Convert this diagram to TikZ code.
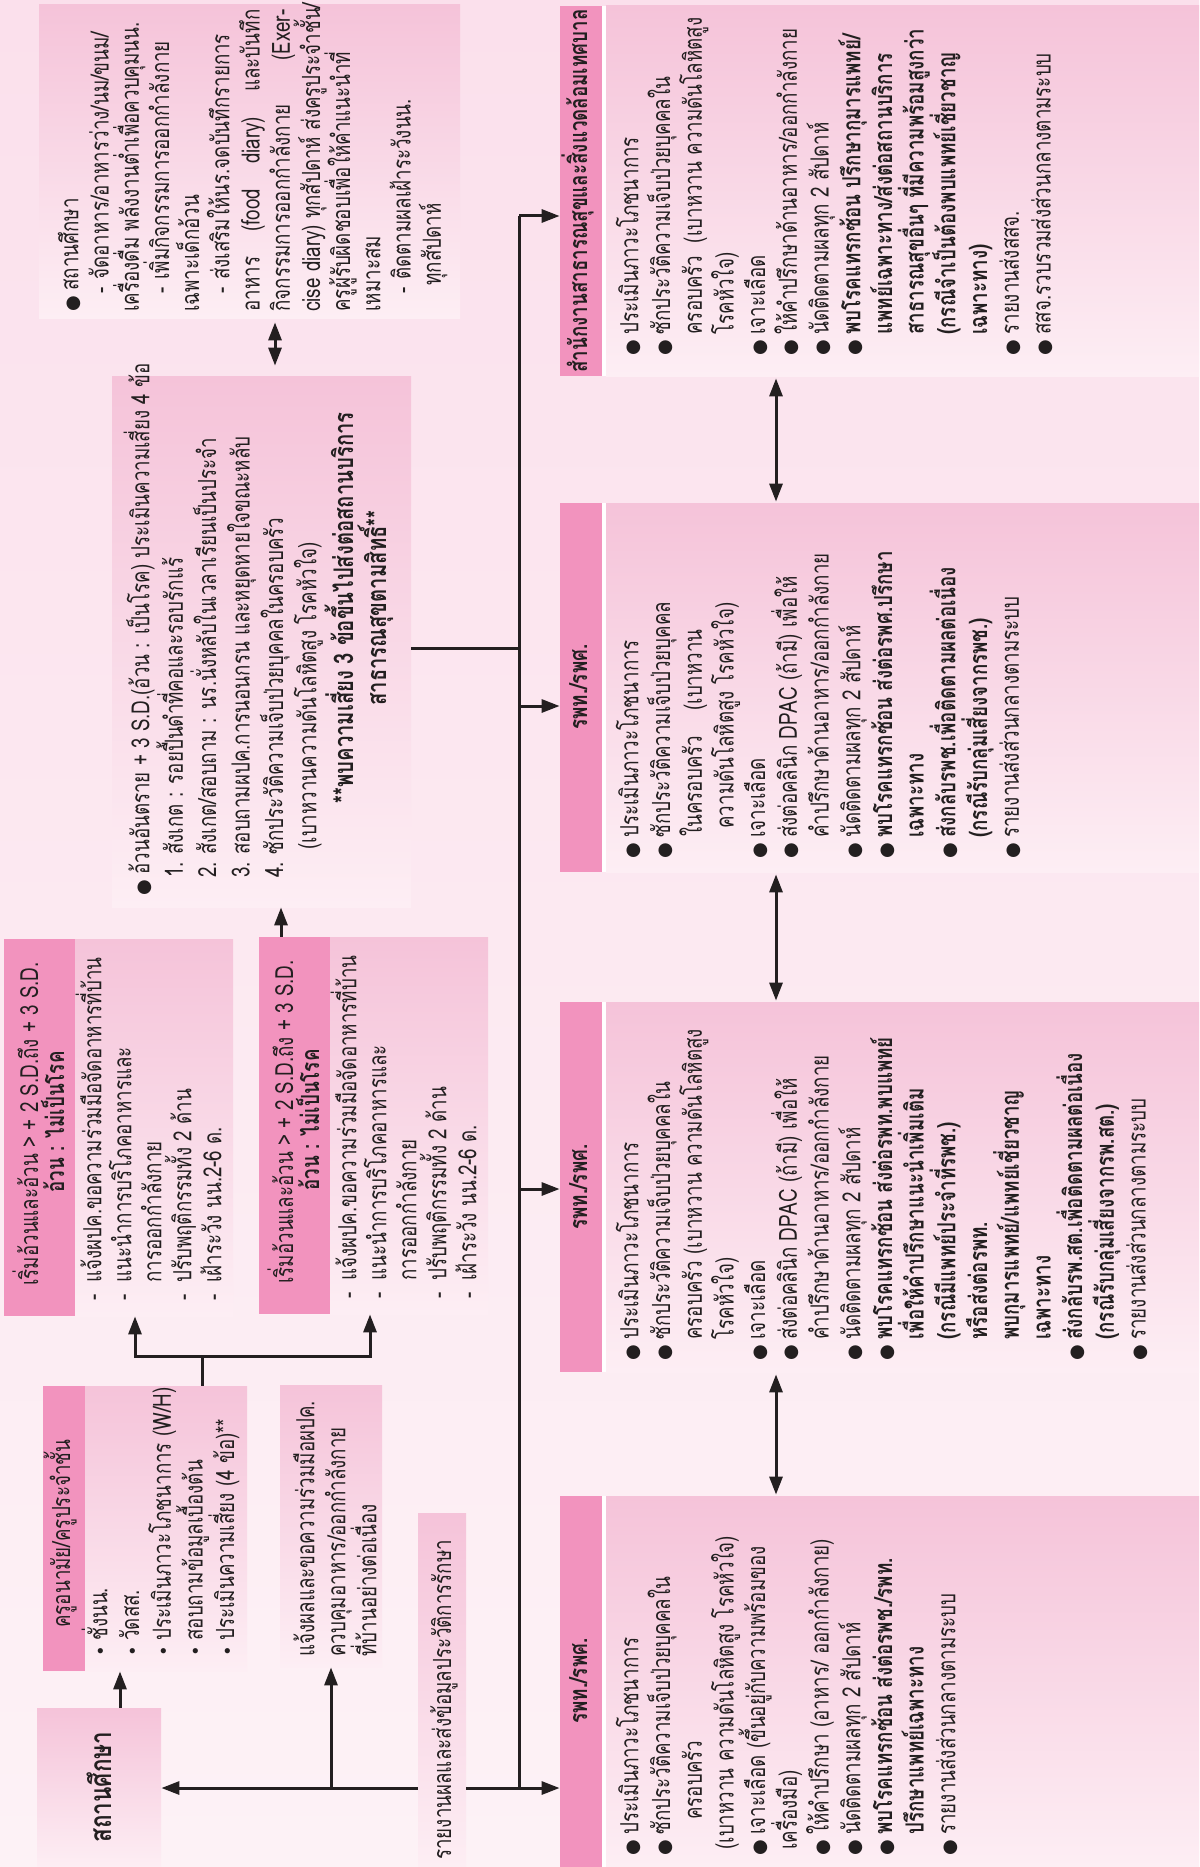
\documentclass[tikz,border=0pt]{standalone}
\usepackage{fontspec}
\setmainfont[Script=Thai,FakeStretch=0.75]{Loma}
\newfontfamily\bulfont{DejaVu Sans}
\usetikzlibrary{arrows.meta,fit}
\definecolor{hdr}{HTML}{F293BE}
\definecolor{boxtop}{HTML}{F5C3D9}
\definecolor{boxbot}{HTML}{FDEEF4}
\definecolor{ink}{HTML}{231F20}
\definecolor{bgtop}{HTML}{FBE0EC}
\definecolor{bgbot}{HTML}{FDF2F6}
\newcommand{\bu}{\makebox[10.5pt][l]{\bulfont\fontsize{9}{9}\selectfont ●}}
\newcommand{\sbu}{\makebox[8pt][l]{\bulfont\fontsize{9}{9}\selectfont •}}
\newcommand{\tdsh}{\hspace*{9pt}\makebox[7pt][l]{-}}
\newcommand{\fdsh}{\makebox[9.5pt][l]{\hspace{0.5pt}-}}
\newcommand{\firstl}{\rule{0pt}{13pt}}
\newcommand{\fs}[2]{\fontsize{#1}{#2}\selectfont\lineskiplimit=-100pt\relax}
\newcommand{\ind}{\hspace*{10.5pt}}
\begin{document}
\begin{tikzpicture}[x=0.5pt,y=-0.5pt,
  ln/.style={draw=ink, line width=1.5pt},
  arr/.style={ln, -{Triangle[length=9pt,width=6.5pt]}},
  darr/.style={ln, {Triangle[length=9pt,width=6.5pt]}-{Triangle[length=9pt,width=6.5pt]}},
  pbox/.style={inner sep=0pt, draw=none, top color=boxtop, bottom color=boxbot},
  hbox/.style={inner sep=0pt, draw=none, fill=hdr},
  txt/.style={rotate=90, anchor=north west, inner sep=0pt, align=left, text=ink, font=\fs{12.5}{15.85}},
  stxt/.style={rotate=90, anchor=base west, inner sep=0pt, text=ink, font=\fs{12.5}{15.85}},
  ctxt/.style={rotate=90, anchor=base, inner sep=0pt, align=center, text=ink, font=\fs{12.5}{15.85}},
  btxt/.style={ctxt, font=\fs{12.5}{15.85}\bfseries},
]
\useasboundingbox (0,0) rectangle (1199,1867);
\fill[top color=bgtop, bottom color=bgbot] (0,0) rectangle (1199,1867);

% ---------- left column boxes ----------
\node[pbox, fit={(39,5)(460,318)}] (tb) {};
\node[pbox, fit={(112,376)(411,907)}] (bb) {};
\node[pbox, fit={(4,939)(233,1316)}] (fa) {};
\node[hbox, fit={(4,939)(75,1316)}] (fah) {};
\node[pbox, fit={(259,937)(488,1314)}] (fb) {};
\node[hbox, fit={(259,937)(330,1314)}] (fbh) {};
\node[pbox, fit={(43,1386)(247,1671)}] (kr) {};
\node[hbox, fit={(43,1386)(85,1671)}] (krh) {};
\node[pbox, fit={(280,1385)(382,1667)}] (nt) {};
\node[pbox, fit={(37,1708)(161,1867)}] (sc) {};
\node[pbox, fit={(418,1513)(466,1867)}] (rp) {};

% ---------- right column boxes ----------
\node[hbox, fit={(560,6)(602,376)}] (h4) {};
\node[pbox, fit={(606,6)(1199,376)}] (b4) {};
\node[hbox, fit={(560,503)(602,872)}] (h3) {};
\node[pbox, fit={(606,503)(1199,872)}] (b3) {};
\node[hbox, fit={(560,1002)(602,1372)}] (h2) {};
\node[pbox, fit={(606,1002)(1199,1372)}] (b2) {};
\node[hbox, fit={(560,1496)(602,1867)}] (h1) {};
\node[pbox, fit={(606,1496)(1199,1867)}] (b1) {};
\fill[white] (h4.north east) rectangle (b4.south west);
\fill[white] (h3.north east) rectangle (b3.south west);
\fill[white] (h2.north east) rectangle (b2.south west);
\fill[white] (h1.north east) rectangle (b1.south west);

% ---------- connectors ----------
\coordinate (J4) at (519,216);
\coordinate (J3) at (519,706);
\coordinate (J2) at (519,1189);
\coordinate (J1) at (519,1788);
\coordinate (JM) at (519,648);
\draw[ln] (J4) -- (J1);
\draw[arr] (J4) -- (J4 -| h4.west);
\draw[arr] (J3) -- (J3 -| h3.west);
\draw[arr] (J2) -- (J2 -| h2.west);
\draw[arr] (J1) -- (J1 -| h1.west);
\draw[ln] (J1) -- (J1 -| rp.east);
\draw[arr] (J1 -| rp.west) -- (J1 -| sc.east);
\draw[ln] (JM -| bb.east) -- (JM);
\draw[arr] (J1 -| nt.south) -- (nt.south);

\coordinate (SK) at (120,0);
\draw[arr] (sc.north -| SK) -- (kr.south -| SK);
\coordinate (KB) at (202,1356);
\coordinate (KA) at (135,1356);
\coordinate (KC) at (370,1356);
\draw[ln] (KB |- kr.north) -- (KB);
\draw[arr] (KB) -- (KA) -- (KA |- fa.south);
\draw[arr] (KB) -- (KC) -- (KC |- fb.south);
\coordinate (FB) at (281,0);
\draw[arr] (fb.north -| FB) -- (bb.south -| FB);
\coordinate (TB) at (275,0);
\draw[darr] ([yshift=-2pt]tb.south -| TB) -- ([yshift=5pt]bb.north -| TB);
\coordinate (DX) at (776,0);
\draw[darr] ([yshift=-1pt]b4.south -| DX) -- ([yshift=0.5pt]b3.north -| DX);
\draw[darr] ([yshift=-1pt]b3.south -| DX) -- ([yshift=0.5pt]b2.north -| DX);
\draw[darr] ([yshift=-1pt]b2.south -| DX) -- ([yshift=0.5pt]b1.north -| DX);

% ---------- texts: left ----------
\node[txt, font=\fs{12.5}{15.1}] (tbt) at (52,312) {%
\firstl\bu สถานศึกษา\\
\tdsh จัดอาหาร/อาหารว่าง/นม/ขนม/\\
เครื่องดื่ม พลังงานต่ำเพื่อควบคุมนน.\\
\tdsh เพิ่มกิจกรรมการออกกำลังกาย\\
เฉพาะเด็กอ้วน\\
\tdsh ส่งเสริมให้นร.จดบันทึกรายการ\\
\makebox[151pt][s]{อาหาร (food diary) และบันทึก}\\
\makebox[151pt][s]{กิจกรรมการออกกำลังกาย (Exer-}\\
cise diary) ทุกสัปดาห์ ส่งครูประจำชั้น/\\
ครูผู้รับผิดชอบเพื่อให้คำแนะนำที่\\
เหมาะสม\\
\tdsh ติดตามผลเฝ้าระวังนน.\\
\hspace*{13pt}ทุกสัปดาห์};

\node[txt, font=\fs{12.5}{16.7}] (bbt) at (123,896) {%
\firstl\bu อ้วนอันตราย + 3 S.D.(อ้วน : เป็นโรค) ประเมินความเสี่ยง 4 ข้อ\\
\hspace*{9pt}\makebox[11.5pt][l]{1.}สังเกต : รอยปื้นดำที่คอและรอบรักแร้\\
\hspace*{9pt}\makebox[11.5pt][l]{2.}สังเกต/สอบถาม : นร.นั่งหลับในเวลาเรียนเป็นประจำ\\
\hspace*{9pt}\makebox[11.5pt][l]{3.}สอบถามผปค.การนอนกรน และหยุดหายใจขณะหลับ\\
\hspace*{9pt}\makebox[11.5pt][l]{4.}ซักประวัติความเจ็บป่วยบุคคลในครอบครัว\\
\hspace*{23pt}(เบาหวานความดันโลหิตสูง โรคหัวใจ)};
\node[btxt, font=\fs{13.5}{16}\bfseries] (bbb1) at (353,608) {**พบความเสี่ยง 3 ข้อขึ้นไปส่งต่อสถานบริการ};
\node[btxt, font=\fs{13.5}{16}\bfseries] (bbb2) at (386,608) {สาธารณสุขตามสิทธิ์**};

\node[ctxt] (fat1) at (38,1124) {เริ่มอ้วนและอ้วน > + 2 S.D.ถึง + 3 S.D.};
\node[btxt] (fat2) at (64,1122) {อ้วน : ไม่เป็นโรค};
\node[txt, font=\fs{12.5}{15}] (fab) at (75,1302) {%
\firstl\fdsh แจ้งผปค.ขอความร่วมมือจัดอาหารที่บ้าน\\
\fdsh แนะนำการบริโภคอาหารและ\\
\hspace*{9.5pt}การออกกำลังกาย\\
\fdsh ปรับพฤติกรรมทั้ง 2 ด้าน\\
\fdsh เฝ้าระวัง นน.2-6 ด.};

\node[ctxt] (fbt1) at (293,1122) {เริ่มอ้วนและอ้วน > + 2 S.D.ถึง + 3 S.D.};
\node[btxt] (fbt2) at (319,1120) {อ้วน : ไม่เป็นโรค};
\node[txt, font=\fs{12.5}{15}] (fbb) at (330,1300) {%
\firstl\fdsh แจ้งผปค.ขอความร่วมมือจัดอาหารที่บ้าน\\
\fdsh แนะนำการบริโภคอาหารและ\\
\hspace*{9.5pt}การออกกำลังกาย\\
\fdsh ปรับพฤติกรรมทั้ง 2 ด้าน\\
\fdsh เฝ้าระวัง นน.2-6 ด.};

\node[stxt] (krt) at (70,1628) {ครูอนามัย/ครูประจำชั้น};
\node[txt] (krb) at (81,1657) {%
\firstl\sbu ชั่งนน.\\
\sbu วัดสส.\\
\sbu ประเมินภาวะโภชนาการ (W/H)\\
\sbu สอบถามข้อมูลเบื้องต้น\\
\sbu ประเมินความเสี่ยง (4 ข้อ)**};

\node[txt, font=\fs{12.5}{15.5}] (ntt) at (288,1657) {%
\firstl แจ้งผลและขอความร่วมมือผปค.\\
ควบคุมอาหาร/ออกกำลังกาย\\
ที่บ้านอย่างต่อเนื่อง};

\node[btxt, font=\fs{15}{18}\bfseries] (sct) at (111,1787) {สถานศึกษา};
\node[stxt] (rpt) at (451,1860) {รายงานผลและส่งข้อมูลประวัติการรักษา};

% ---------- texts: right ----------
\node[btxt] (h4t) at (587,191) {สำนักงานสาธารณสุขและสิ่งแวดล้อมเทศบาล};
\node[btxt] (h3t) at (587,687) {รพท./รพศ.};
\node[btxt] (h2t) at (587,1187) {รพท./รพศ.};
\node[btxt] (h1t) at (587,1681) {รพท./รพศ.};

\node[txt] (b4t) at (612,356) {%
\firstl\bu ประเมินภาวะโภชนาการ\\
\bu ซักประวัติความเจ็บป่วยบุคคลใน\\
\ind ครอบครัว\ \ (เบาหวาน ความดันโลหิตสูง\\
\ind โรคหัวใจ)\\
\bu เจาะเลือด\\
\bu ให้คำปรึกษาด้านอาหาร/ออกกำลังกาย\\
\bu นัดติดตามผลทุก 2 สัปดาห์\\
\bu \textbf{พบโรคแทรกซ้อน ปรึกษากุมารแพทย์/}\\
\ind\textbf{แพทย์เฉพาะทาง/ส่งต่อสถานบริการ}\\
\ind\textbf{สาธารณสุขอื่นๆ ที่มีความพร้อมสูงกว่า}\\
\ind\textbf{(กรณีจำเป็นต้องพบแพทย์เชี่ยวชาญ}\\
\ind\textbf{เฉพาะทาง)}\\
\bu รายงานส่งสสจ.\\
\bu สสจ.รวบรวมส่งส่วนกลางตามระบบ};

\node[txt] (b3t) at (612,859) {%
\firstl\bu ประเมินภาวะโภชนาการ\\
\bu ซักประวัติความเจ็บป่วยบุคคล\\
\makebox[74pt][l]{\hspace*{11pt}ในครอบครัว}(เบาหวาน\\
\hspace*{15pt}ความดันโลหิตสูง โรคหัวใจ)\\
\bu เจาะเลือด\\
\bu ส่งต่อคลินิก DPAC (ถ้ามี) เพื่อให้\\
\ind คำปรึกษาด้านอาหาร/ออกกำลังกาย\\
\bu นัดติดตามผลทุก 2 สัปดาห์\\
\bu \textbf{พบโรคแทรกซ้อน ส่งต่อรพศ.ปรึกษา}\\
\ind\textbf{เฉพาะทาง}\\
\bu \textbf{ส่งกลับรพช.เพื่อติดตามผลต่อเนื่อง}\\
\ind\textbf{(กรณีรับกลุ่มเสี่ยงจากรพช.)}\\
\bu รายงานส่งส่วนกลางตามระบบ};

\node[txt] (b2t) at (612,1361) {%
\firstl\bu ประเมินภาวะโภชนาการ\\
\bu ซักประวัติความเจ็บป่วยบุคคลใน\\
\ind ครอบครัว (เบาหวาน ความดันโลหิตสูง\\
\ind โรคหัวใจ)\\
\bu เจาะเลือด\\
\bu ส่งต่อคลินิก DPAC (ถ้ามี) เพื่อให้\\
\ind คำปรึกษาด้านอาหาร/ออกกำลังกาย\\
\bu นัดติดตามผลทุก 2 สัปดาห์\\
\bu \textbf{พบโรคแทรกซ้อน ส่งต่อรพท.พบแพทย์}\\
\ind\textbf{เพื่อให้คำปรึกษาแนะนำเพิ่มเติม}\\
\ind\textbf{(กรณีมีแพทย์ประจำที่รพช.)}\\
\ind\textbf{หรือส่งต่อรพท.}\\
\ind\textbf{พบกุมารแพทย์/แพทย์เชี่ยวชาญ}\\
\ind\textbf{เฉพาะทาง}\\
\bu \textbf{ส่งกลับรพ.สต.เพื่อติดตามผลต่อเนื่อง}\\
\ind\textbf{(กรณีรับกลุ่มเสี่ยงจากรพ.สต.)}\\
\bu รายงานส่งส่วนกลางตามระบบ};

\node[txt] (b1t) at (612,1856) {%
\firstl\bu ประเมินภาวะโภชนาการ\\
\bu ซักประวัติความเจ็บป่วยบุคคลใน\\
\hspace*{18pt}ครอบครัว\\
\hspace*{3pt}(เบาหวาน ความดันโลหิตสูง โรคหัวใจ)\\
\bu เจาะเลือด (ขึ้นอยู่กับความพร้อมของ\\
\hspace*{3pt}เครื่องมือ)\\
\bu ให้คำปรึกษา (อาหาร/ ออกกำลังกาย)\\
\bu นัดติดตามผลทุก 2 สัปดาห์\\
\bu \textbf{พบโรคแทรกซ้อน ส่งต่อรพช./รพท.}\\
\ind\textbf{ปรึกษาแพทย์เฉพาะทาง}\\
\bu รายงานส่งส่วนกลางตามระบบ};
\end{tikzpicture}
\end{document}
